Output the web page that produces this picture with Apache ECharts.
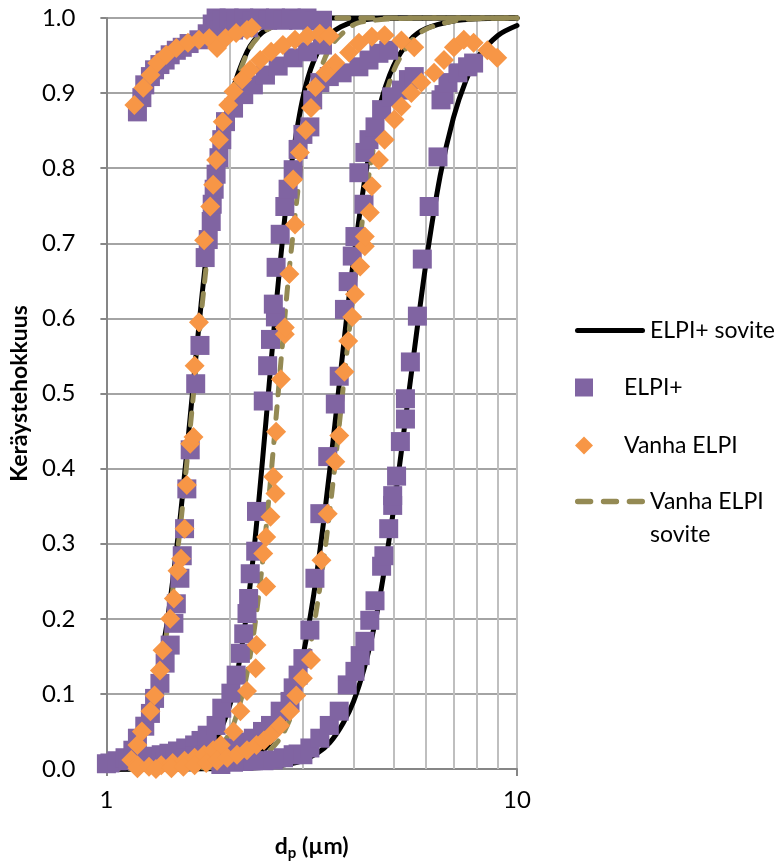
<!DOCTYPE html>
<html><head><meta charset="utf-8">
<script src="https://cdn.jsdelivr.net/npm/echarts/dist/echarts.min.js"></script>
<style>html,body{margin:0;padding:0;background:#fff}#c{width:779px;height:866px}</style>
</head><body><div id="c"></div>
<script>
// ---- ELPI+ measured points [dp (µm), efficiency] per stage ----
const elpiPlusA = [[1.19,0.875],[1.22,0.894],[1.24,0.911],[1.28,0.922],[1.31,0.931],[1.35,0.938],[1.39,0.944],[1.43,0.951],[1.48,0.957],[1.53,0.961],[1.59,0.966],[1.68,0.971],[1.76,0.979],[1.81,0.992],[1.85,1.0],[1.88,0.984],[1.91,0.997],[1.99,1.0],[2.04,0.984],[2.07,0.995],[2.16,1.0],[2.22,0.987],[2.26,0.996],[2.36,1.0],[2.47,0.997],[2.58,1.0],[2.69,0.997],[2.82,1.0],[2.94,0.997],[3.08,1.0],[3.22,0.996],[3.36,0.997]];
const elpiPlusB = [[1.0,0.007],[1.02,0.008],[1.06,0.011],[1.11,0.015],[1.16,0.025],[1.19,0.041],[1.24,0.057],[1.28,0.074],[1.31,0.094],[1.35,0.114],[1.39,0.141],[1.43,0.165],[1.46,0.194],[1.48,0.220],[1.51,0.254],[1.53,0.284],[1.55,0.320],[1.57,0.373],[1.60,0.425],[1.65,0.513],[1.69,0.564],[1.74,0.681],[1.77,0.705],[1.80,0.729],[1.81,0.752],[1.83,0.772],[1.85,0.792],[1.88,0.814],[1.91,0.838],[1.95,0.862],[2.04,0.880],[2.16,0.898],[2.28,0.911],[2.44,0.924],[2.62,0.936],[2.85,0.947],[3.09,0.955],[3.36,0.964]];
const elpiPlusC = [[1.13,0.011],[1.19,0.013],[1.24,0.015],[1.30,0.017],[1.36,0.019],[1.42,0.021],[1.49,0.024],[1.56,0.028],[1.64,0.032],[1.70,0.038],[1.76,0.045],[1.85,0.058],[1.91,0.081],[2.01,0.101],[2.07,0.125],[2.12,0.154],[2.16,0.180],[2.20,0.207],[2.22,0.227],[2.24,0.260],[2.31,0.290],[2.32,0.343],[2.41,0.490],[2.47,0.537],[2.51,0.572],[2.58,0.602],[2.55,0.619],[2.59,0.668],[2.65,0.712],[2.72,0.749],[2.77,0.772],[2.85,0.798],[2.93,0.825],[3.01,0.845],[3.13,0.855],[3.18,0.891],[3.31,0.914],[3.49,0.922],[3.75,0.927],[4.12,0.935],[4.36,0.944],[4.61,0.953],[4.87,0.957]];
const elpiPlusD = [[1.39,0.009],[1.47,0.012],[1.55,0.015],[1.64,0.017],[1.73,0.019],[1.81,0.021],[1.90,0.024],[2.00,0.028],[2.12,0.032],[2.20,0.036],[2.28,0.041],[2.40,0.050],[2.51,0.058],[2.65,0.077],[2.80,0.090],[2.85,0.108],[2.93,0.125],[3.01,0.147],[3.13,0.185],[3.22,0.254],[3.31,0.340],[3.46,0.416],[3.61,0.486],[3.69,0.523],[3.80,0.612],[3.88,0.649],[3.97,0.683],[4.03,0.709],[4.24,0.752],[4.12,0.794],[4.26,0.821],[4.36,0.838],[4.51,0.855],[4.68,0.878],[4.95,0.895],[5.23,0.904],[5.44,0.918],[5.62,0.922]];
const elpiPlusE = [[1.90,0.006],[2.04,0.009],[2.16,0.010],[2.28,0.011],[2.42,0.011],[2.55,0.012],[2.70,0.015],[2.85,0.019],[2.93,0.020],[3.01,0.019],[3.13,0.028],[3.31,0.041],[3.49,0.058],[3.69,0.077],[3.86,0.112],[4.03,0.130],[4.15,0.151],[4.26,0.170],[4.38,0.198],[4.51,0.224],[4.68,0.270],[4.74,0.284],[4.87,0.320],[4.98,0.351],[4.98,0.364],[5.09,0.390],[5.20,0.436],[5.35,0.466],[5.35,0.493],[5.50,0.542],[5.72,0.603],[5.88,0.679],[6.11,0.749],[6.42,0.815],[6.53,0.891],[6.64,0.898],[6.79,0.914],[7.18,0.927],[7.58,0.935],[7.84,0.940]];

// ---- Vanha ELPI measured points per stage ----
const vanhaA = [[1.17,0.884],[1.23,0.907],[1.28,0.924],[1.33,0.940],[1.40,0.951],[1.48,0.960],[1.58,0.967],[1.68,0.971],[1.78,0.973],[1.86,0.960],[1.95,0.973],[2.07,0.980],[2.20,0.984],[2.26,0.987]];
const vanhaB = [[1.15,0.012],[1.19,0.005],[1.19,0.032],[1.22,0.050],[1.28,0.077],[1.31,0.098],[1.35,0.131],[1.37,0.158],[1.43,0.200],[1.46,0.227],[1.49,0.264],[1.52,0.280],[1.55,0.320],[1.57,0.378],[1.60,0.433],[1.63,0.442],[1.64,0.537],[1.68,0.595],[1.73,0.704],[1.79,0.749],[1.82,0.778],[1.85,0.811],[1.88,0.838],[1.92,0.862],[1.98,0.884],[2.04,0.902],[2.14,0.918],[2.24,0.931],[2.37,0.944],[2.52,0.955],[2.69,0.964],[2.88,0.971],[3.09,0.976],[3.31,0.979],[3.50,0.976]];
const vanhaC = [[1.19,0.001],[1.27,0.003],[1.36,0.005],[1.45,0.008],[1.55,0.011],[1.64,0.015],[1.73,0.019],[1.82,0.025],[1.90,0.032],[2.04,0.050],[2.12,0.077],[2.20,0.104],[2.31,0.134],[2.32,0.165],[2.45,0.243],[2.41,0.287],[2.45,0.309],[2.51,0.336],[2.58,0.367],[2.55,0.389],[2.59,0.449],[2.66,0.519],[2.72,0.579],[2.72,0.588],[2.79,0.659],[2.88,0.725],[2.85,0.785],[2.96,0.821],[3.06,0.851],[3.15,0.880],[3.23,0.908],[3.42,0.927],[3.61,0.940],[3.90,0.954],[4.12,0.967],[4.43,0.975],[4.76,0.977],[5.23,0.970],[5.62,0.961]];
const vanhaD = [[1.32,0.000],[1.44,0.001],[1.54,0.003],[1.64,0.005],[1.75,0.008],[1.86,0.011],[1.97,0.015],[2.08,0.019],[2.20,0.025],[2.32,0.032],[2.42,0.038],[2.51,0.045],[2.65,0.058],[2.80,0.077],[2.90,0.098],[3.01,0.121],[3.15,0.145],[3.34,0.278],[3.46,0.340],[3.61,0.409],[3.69,0.444],[3.80,0.529],[3.88,0.570],[3.97,0.602],[4.03,0.632],[4.15,0.669],[4.26,0.696],[4.26,0.709],[4.38,0.741],[4.43,0.776],[4.61,0.811],[4.76,0.838],[5.03,0.865],[5.23,0.882],[5.53,0.900],[5.85,0.914],[6.28,0.927],[6.64,0.944],[7.02,0.961],[7.42,0.971],[7.84,0.967],[8.47,0.957],[8.95,0.947]];

// ---- fitted curves ----
const fitPlusB = [[1,0.008],[1.1,0.020],[1.2,0.047],[1.3,0.100],[1.4,0.189],[1.5,0.317],[1.55,0.392],[1.6,0.469],[1.65,0.546],[1.7,0.618],[1.8,0.742],[1.9,0.831],[2,0.892],[2.2,0.955],[2.4,0.981],[2.7,0.994],[3,0.998],[3.5,1.0],[10,1.0]];
const fitPlusC = [[1,0],[1.5,0.004],[1.8,0.029],[2,0.086],[2.1,0.138],[2.2,0.211],[2.3,0.304],[2.4,0.411],[2.5,0.522],[2.6,0.627],[2.7,0.718],[2.8,0.792],[3,0.890],[3.2,0.943],[3.5,0.978],[4,0.995],[5,1.0],[10,1.0]];
const fitPlusD = [[1,0],[1.5,0.0004],[2,0.005],[2.4,0.024],[2.7,0.065],[3,0.148],[3.2,0.233],[3.4,0.340],[3.6,0.458],[3.8,0.575],[4,0.679],[4.3,0.799],[4.6,0.877],[5,0.936],[5.5,0.971],[6,0.986],[7,0.996],[8,0.999],[10,1.0]];
const fitPlusE = [[1,0],[2,0.0005],[2.5,0.003],[3,0.011],[3.5,0.035],[4,0.090],[4.5,0.192],[5,0.344],[5.5,0.517],[6,0.673],[6.5,0.790],[7,0.867],[7.5,0.916],[8,0.947],[9,0.977],[10,0.990]];
const fitVanhaB = [[1,0.0075],[1.1,0.019],[1.2,0.045],[1.3,0.094],[1.4,0.179],[1.5,0.303],[1.55,0.377],[1.6,0.454],[1.65,0.530],[1.7,0.603],[1.8,0.729],[1.9,0.822],[2,0.885],[2.2,0.953],[2.4,0.980],[2.7,0.994],[3,0.998],[3.5,1.0],[10,1.0]];
const fitVanhaC = [[1,0],[1.5,0.002],[1.8,0.016],[2,0.049],[2.1,0.081],[2.2,0.127],[2.3,0.192],[2.4,0.275],[2.5,0.374],[2.6,0.479],[2.7,0.582],[2.8,0.675],[3,0.816],[3.2,0.900],[3.5,0.960],[4,0.991],[4.5,0.997],[5,0.999],[6,1.0],[10,1.0]];
const fitVanhaD = [[1,0],[2,0.003],[2.4,0.017],[2.7,0.048],[3,0.116],[3.2,0.190],[3.4,0.288],[3.6,0.403],[3.8,0.524],[4,0.636],[4.3,0.770],[4.6,0.860],[5,0.929],[5.5,0.968],[6,0.985],[7,0.996],[8,0.999],[10,1.0]];

// ---- axes ----
const xMin = 1, xMax = 10;
const minorGrid = [2,3,4,5,6,7,8,9];
const yMin = 0, yMax = 1, yStep = 0.1;

const FONT = 'Lato';
const BLACK = '#000000', OLIVE = '#948A54', PURPLE = '#8064A2', ORANGE = '#F79646';
const chart = echarts.init(document.getElementById('c'), null, {renderer:'canvas'});

function fitLine(name, data, color, lw, dash, zz) {
  return {
    name: name, type: 'line', data: data, symbol: 'none', showSymbol: false,
    smooth: 0.3, z: zz, clip: false, silent: true, animation: false,
    itemStyle: {color: color},
    lineStyle: {color: color, width: lw, type: dash, cap: 'round', join: 'round'},
    emphasis: {disabled: true}
  };
}

// legend icons (keep their own aspect inside the 70x18 legend box)
const ICON_LINE = 'path://M2.5,0H67.5A2.5,2.5,0,0,1,67.5,5H2.5A2.5,2.5,0,0,1,2.5,0Z';
const ICON_DASH = 'path://M2.5,0H14.5A2.5,2.5,0,0,1,14.5,5H2.5A2.5,2.5,0,0,1,2.5,0Z M26.5,0H38.5A2.5,2.5,0,0,1,38.5,5H26.5A2.5,2.5,0,0,1,26.5,0Z M50.5,0H62.5A2.5,2.5,0,0,1,62.5,5H50.5A2.5,2.5,0,0,1,50.5,0Z';
const ICON_SQUARE = 'path://M0,0H18V18H0Z';
const ICON_DIAMOND = 'path://M9,0L18,9L9,18L0,9Z';

const legendCommon = {
  left: 575, orient: 'vertical', itemWidth: 70, itemHeight: 18, padding: 0,
  selectedMode: false, symbolKeepAspect: true,
  textStyle: {fontFamily: FONT, fontSize: 23, color: '#000', lineHeight: 33}
};

const option = {
  animation: false,
  grid: {left: 101, right: 262, top: 18, bottom: 95, containLabel: false},
  xAxis: {
    type: 'log', logBase: 10, min: xMin, max: xMax,
    name: '{b|d}{s|p}{b| (µm)}', nameLocation: 'middle', nameGap: 63,
    nameTextStyle: {rich: {
      b: {fontFamily: FONT, fontWeight: 'bold', fontSize: 23, color: '#000'},
      s: {fontFamily: FONT, fontWeight: 'bold', fontSize: 15, color: '#000', padding: [14,0,0,0]}
    }},
    axisLine: {show: true, lineStyle: {color: '#868686', width: 2}},
    axisTick: {show: true, length: 7, lineStyle: {color: '#868686', width: 2}},
    axisLabel: {fontFamily: FONT, fontSize: 24, color: '#000', margin: 17, lineHeight: 28},
    splitLine: {show: true, lineStyle: {color: '#BFBFBF', width: 2}},
    minorTick: {show: false}, minorSplitLine: {show: false}
  },
  yAxis: {
    type: 'value', min: yMin, max: yMax, interval: yStep,
    name: 'Keräystehokkuus', nameLocation: 'middle', nameGap: 68,
    nameTextStyle: {fontFamily: FONT, fontWeight: 'bold', fontSize: 23, color: '#000'},
    axisLine: {show: true, lineStyle: {color: '#868686', width: 2}},
    axisTick: {show: true, length: 6, lineStyle: {color: '#868686', width: 2}},
    axisLabel: {fontFamily: FONT, fontSize: 24, color: '#000', margin: 31, formatter: v => v.toFixed(1)},
    splitLine: {show: true, lineStyle: {color: '#868686', width: 1.5}}
  },
  legend: [
    Object.assign({}, legendCommon, {top: 314, data: [{name: 'ELPI+ sovite', icon: ICON_LINE}]}),
    Object.assign({}, legendCommon, {top: 371, data: [{name: 'ELPI+', icon: ICON_SQUARE}]}),
    Object.assign({}, legendCommon, {top: 429, data: [{name: 'Vanha ELPI', icon: ICON_DIAMOND}]}),
    Object.assign({}, legendCommon, {top: 452, data: [{name: 'Vanha ELPI sovite', icon: ICON_DASH}],
      formatter: () => '\nVanha ELPI\nsovite'})
  ],
  series: [
    {name: 'grid', type: 'line', data: [], silent: true, z: 1,
     markLine: {silent: true, z: 1, symbol: ['none','none'], label: {show: false}, animation: false,
       lineStyle: {color: '#BFBFBF', width: 2, type: 'solid'},
       emphasis: {disabled: true},
       data: minorGrid.map(v => ({xAxis: v}))}},
    fitLine('ELPI+ sovite', fitPlusB, BLACK, 5, 'solid', 2),
    fitLine('ELPI+ sovite', fitPlusC, BLACK, 5, 'solid', 2),
    fitLine('ELPI+ sovite', fitPlusD, BLACK, 5, 'solid', 2),
    fitLine('ELPI+ sovite', fitPlusE, BLACK, 5, 'solid', 2),
    fitLine('Vanha ELPI sovite', fitVanhaB, OLIVE, 5, [12,12], 3),
    fitLine('Vanha ELPI sovite', fitVanhaC, OLIVE, 5, [12,12], 3),
    fitLine('Vanha ELPI sovite', fitVanhaD, OLIVE, 5, [12,12], 3),
    {name: 'ELPI+', type: 'scatter', symbol: 'rect', symbolSize: 19, z: 4, clip: false, silent: true,
     itemStyle: {color: PURPLE, opacity: 1},
     data: [].concat(elpiPlusA, elpiPlusB, elpiPlusC, elpiPlusD, elpiPlusE)},
    {name: 'Vanha ELPI', type: 'scatter', symbol: 'diamond', symbolSize: 20, z: 5, clip: false, silent: true,
     itemStyle: {color: ORANGE, opacity: 1},
     data: [].concat(vanhaA, vanhaB, vanhaC, vanhaD)}
  ]
};
chart.setOption(option);
</script></body></html>
